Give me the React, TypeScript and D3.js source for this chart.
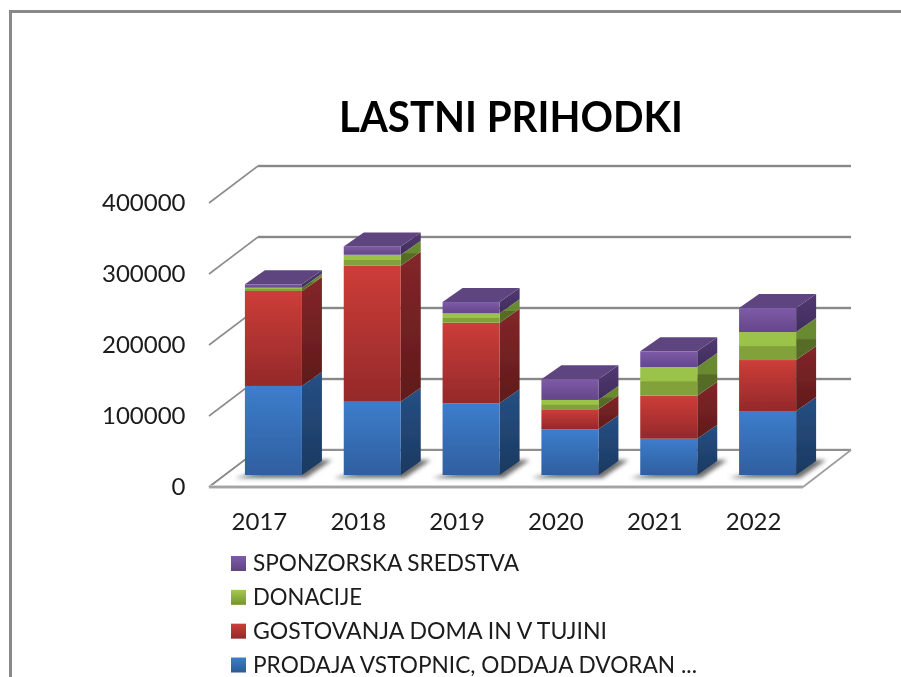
import React, { useEffect, useRef } from 'react';
import * as d3 from 'd3';

const years = ['2017', '2018', '2019', '2020', '2021', '2022'];
const prodaja = [125400, 103200, 101000, 64400, 51100, 90100];
const gostovanja = [133800, 191500, 113500, 28200, 60600, 71800];
const donacije = [4600, 15500, 13200, 13100, 40400, 39400];
const sponzorska = [4800, 11800, 15900, 29200, 22100, 33800];
const yTicks = [0, 100000, 200000, 300000, 400000];
const seriesKeys = ['prodaja', 'gostovanja', 'donacije', 'sponzorska'];
const legendLabels = ['SPONZORSKA SREDSTVA', 'DONACIJE', 'GOSTOVANJA DOMA IN V TUJINI', 'PRODAJA VSTOPNIC, ODDAJA DVORAN ...'];
const legendKeys = ['sponzorska', 'donacije', 'gostovanja', 'prodaja'];
const legendWidths = [266, 109, 354, 444];

const colors = {
    prodaja: { front: ['#3d7dcc', '#2f5f9f'], side: ['#265084', '#1b3960'], top: '#2c5a94' },
    gostovanja: { front: ['#cd3d38', '#94292a'], side: ['#84262a', '#5f1b1a'], top: '#8f2b2a' },
    donacije: { front: ['#9bc348', '#82a13b'], side: ['#6b8a33', '#566c26'], top: '#6b8a33' },
    sponzorska: { front: ['#7d5ba8', '#644689'], side: ['#513a72', '#3f2c5a'], top: '#5f447f' },
};

const App = () => {
    const svgRef = useRef(null);

    useEffect(() => {
        const svg = d3.select(svgRef.current);
        svg.selectAll('*').remove();

        const y = d3.scaleLinear().domain([0, 400000]).range([487, 203]);
        const xFloor = d3.scaleBand().domain(years).range([210, 803]);
        const x = d3.scaleBand().domain(years).range([224, 817]).paddingInner(0.423).paddingOuter(0.2115);

        // wall depth and bar depth
        const wallDx = 48, wallDy = 37;
        const barDx = 20, barDy = 14;
        const baseShift = 12;

        const defs = svg.append('defs');
        const soft = defs.append('filter').attr('id', 'soft').attr('x', '-5%').attr('y', '-5%').attr('width', '110%').attr('height', '110%');
        soft.append('feGaussianBlur').attr('stdDeviation', 0.55);
        const shadowBlur = defs.append('filter').attr('id', 'shadowBlur').attr('x', '-30%').attr('y', '-80%').attr('width', '160%').attr('height', '260%');
        shadowBlur.append('feGaussianBlur').attr('stdDeviation', 2);

        const addGradient = (id, stops) => {
            const g = defs.append('linearGradient').attr('id', id).attr('x1', 0).attr('x2', 0).attr('y1', 0).attr('y2', 1);
            stops.forEach(([off, col]) => g.append('stop').attr('offset', off).attr('stop-color', col));
        };
        seriesKeys.forEach(k => {
            const c = colors[k];
            if (k === 'donacije') {
                addGradient(`front-${k}`, [[0, c.front[0]], [0.48, c.front[0]], [0.52, c.front[1]], [1, c.front[1]]]);
                addGradient(`side-${k}`, [[0, c.side[0]], [0.48, c.side[0]], [0.52, c.side[1]], [1, c.side[1]]]);
            } else {
                addGradient(`front-${k}`, [[0, c.front[0]], [1, c.front[1]]]);
                addGradient(`side-${k}`, [[0, c.side[0]], [1, c.side[1]]]);
            }
        });
        addGradient('swatch-prodaja', [[0, '#3d7dcc'], [1, '#2c5a94']]);
        addGradient('swatch-gostovanja', [[0, '#cd3d38'], [1, '#94292a']]);
        addGradient('swatch-donacije', [[0, '#a4c94f'], [1, '#76932f']]);
        addGradient('swatch-sponzorska', [[0, '#7d5ba8'], [1, '#5f447f']]);

        // frame
        svg.append('rect').attr('width', 901).attr('height', 677).attr('fill', '#ffffff');
        svg.append('rect').attr('x', 9).attr('y', 10).attr('width', 3).attr('height', 667).attr('fill', '#898989');
        svg.append('rect').attr('x', 9).attr('y', 10).attr('width', 892).attr('height', 3).attr('fill', '#898989');

        const plot = svg.append('g').attr('filter', 'url(#soft)');

        // back wall gridlines and side wall ticks
        yTicks.forEach(t => {
            const yy = y(t);
            plot.append('line').attr('x1', 258).attr('x2', 851).attr('y1', yy - wallDy).attr('y2', yy - wallDy)
                .attr('stroke', '#d2d2d2').attr('stroke-width', 3.2);
            plot.append('line').attr('x1', 258).attr('x2', 851).attr('y1', yy - wallDy).attr('y2', yy - wallDy)
                .attr('stroke', '#888888').attr('stroke-width', 1.8);
            plot.append('line').attr('x1', 209).attr('x2', 258).attr('y1', yy).attr('y2', yy - wallDy)
                .attr('stroke', '#8c8c8c').attr('stroke-width', 1.6);
        });

        // floor
        const floorLine = d3.line();
        plot.append('path')
            .attr('d', floorLine([[210, y(0)], [258, y(0) - wallDy], [851, y(0) - wallDy], [803, y(0)]]) + 'Z')
            .attr('fill', '#ffffff');
        plot.append('line').attr('x1', 258).attr('x2', 851).attr('y1', y(0) - wallDy).attr('y2', y(0) - wallDy)
            .attr('stroke', '#8f8f8f').attr('stroke-width', 1.8);
        plot.append('path')
            .attr('d', floorLine([[209, y(0)], [258, y(0) - wallDy]]))
            .attr('stroke', '#8c8c8c').attr('stroke-width', 1.6).attr('fill', 'none');
        plot.append('path')
            .attr('d', floorLine([[803, y(0)], [851, y(0) - wallDy]]))
            .attr('stroke', '#9c9c9c').attr('stroke-width', 1.6).attr('fill', 'none');
        plot.append('line').attr('x1', 209).attr('x2', 803).attr('y1', y(0)).attr('y2', y(0))
            .attr('stroke', '#c8c8c8').attr('stroke-width', 3.6);
        plot.append('line').attr('x1', 209).attr('x2', 803).attr('y1', y(0)).attr('y2', y(0))
            .attr('stroke', '#a4a4a4').attr('stroke-width', 2);

        const table = years.map((year, i) => ({
            year,
            prodaja: prodaja[i],
            gostovanja: gostovanja[i],
            donacije: donacije[i],
            sponzorska: sponzorska[i],
        }));
        const stacked = d3.stack().keys(seriesKeys)(table);
        const barY = v => y(v) - baseShift;

        // floor shadows
        table.forEach(d => {
            const x0 = x(d.year), w = x.bandwidth();
            const base = barY(0);
            plot.append('path')
                .attr('d', floorLine([[x0 - 10, base + 3], [x0 + w + 4, base + 3], [x0 + w + 30, base - 15], [x0 + w + 6, base - 15]]) + 'Z')
                .attr('fill', '#6e6e6e').attr('filter', 'url(#shadowBlur)');
        });

        // bars, drawn bottom to top
        table.forEach((d, i) => {
            const x0 = x(d.year), w = x.bandwidth();
            stacked.forEach(layer => {
                const k = layer.key;
                const top = barY(layer[i][1]), bottom = barY(layer[i][0]);
                plot.append('path')
                    .attr('d', floorLine([[x0 + w, top], [x0 + w + barDx, top - barDy], [x0 + w + barDx, bottom - barDy], [x0 + w, bottom]]) + 'Z')
                    .attr('fill', `url(#side-${k})`);
                plot.append('rect').attr('x', x0).attr('y', top).attr('width', w).attr('height', bottom - top)
                    .attr('fill', `url(#front-${k})`);
            });
            const last = stacked[stacked.length - 1];
            const topY = barY(last[i][1]);
            plot.append('path')
                .attr('d', floorLine([[x0, topY], [x0 + barDx, topY - barDy], [x0 + w + barDx, topY - barDy], [x0 + w, topY]]) + 'Z')
                .attr('fill', colors.sponzorska.top);
        });

        const text = svg.append('g').attr('font-family', 'Lato, sans-serif').attr('fill', '#000000').attr('filter', 'url(#soft)');

        text.append('text').attr('x', 511).attr('y', 132).attr('text-anchor', 'middle')
            .attr('font-size', 42).attr('font-weight', 700).attr('textLength', 344).attr('lengthAdjust', 'spacingAndGlyphs')
            .text('LASTNI PRIHODKI');

        yTicks.forEach(t => {
            text.append('text').attr('x', 185.5).attr('y', y(t) + 7.5).attr('text-anchor', 'end')
                .attr('font-size', 24).attr('fill', '#1a1a1a').text(t);
        });

        years.forEach(year => {
            text.append('text').attr('x', xFloor(year) + xFloor.bandwidth() / 2).attr('y', 529.5).attr('text-anchor', 'middle')
                .attr('font-size', 24).attr('fill', '#1a1a1a').text(year);
        });

        const legendY = d3.scalePoint().domain(legendKeys).range([571, 672.5]);
        legendKeys.forEach((k, i) => {
            svg.append('rect').attr('x', 231).attr('y', legendY(k) - 15).attr('width', 15).attr('height', 15)
                .attr('fill', `url(#swatch-${k})`).attr('filter', 'url(#soft)');
            text.append('text').attr('x', 253).attr('y', legendY(k)).attr('font-size', 22.5).attr('fill', '#1a1a1a')
                .attr('textLength', legendWidths[i]).attr('lengthAdjust', 'spacingAndGlyphs').text(legendLabels[i]);
        });
    }, []);

    return <svg ref={svgRef} width={901} height={677} style={{ position: 'absolute', left: 0, top: 0, display: 'block' }}></svg>;
};

export default App;
